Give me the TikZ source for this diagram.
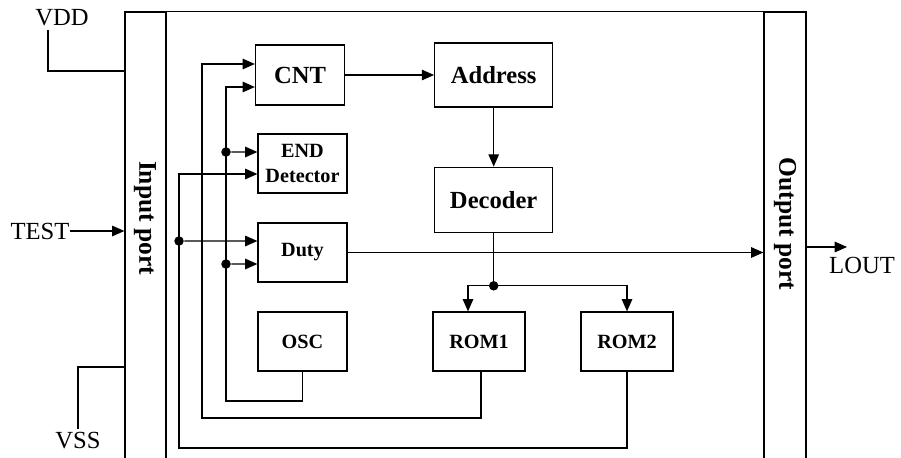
\documentclass[tikz,border=0pt]{standalone}
\usepackage{fontspec}
\setmainfont{Liberation Serif}
\usetikzlibrary{positioning, arrows.meta}

\begin{document}
\begin{tikzpicture}[x=0.02cm, y=-0.02cm, >={Triangle[length=7pt, width=6pt]}, line width=0.7pt,
  main block/.style={draw, inner sep=0pt, font=\bfseries\fontsize{14}{16}\selectfont},
  small block/.style={draw, inner sep=0pt, minimum width=1.78cm, minimum height=1.18cm, align=center, font=\bfseries\fontsize{11.5}{14}\selectfont},
  port/.style={draw, inner sep=0pt, minimum height=8.96cm},
  port label/.style={rotate=-90, inner sep=0pt, font=\bfseries\fontsize{14.5}{16}\selectfont},
  pin label/.style={inner sep=0pt, font=\fontsize{14}{16}\selectfont},
  dot/.style={circle, fill, inner sep=0pt, minimum size=0.19cm}]

  \useasboundingbox (0,0) rectangle (901,457);

  % Define ports and frame
  \node[port, minimum width=0.82cm] (inport) at (145.5,236) {};
  \node[port, minimum width=0.84cm] (outport) at (785,236) {};
  \draw (inport.north east) -- (outport.north west);
  \node[port label] at (145,218) {Input port};
  \node[port label] at (785,224) {Output port};

  % Define blocks
  \node[main block, minimum width=1.78cm, minimum height=1.2cm] (cnt) at (300,75) {CNT};
  \node[main block, minimum width=2.36cm, minimum height=1.28cm, right=1.78cm of cnt] (addr) {Address};
  \node[main block, minimum width=2.36cm, minimum height=1.3cm, below=1.18cm of addr] (dec) {Decoder};
  \node[small block] (endd) at (302.5,163.5) {END\\Detector};
  \node[small block] (duty) at (302.5,252.5) {Duty};
  \node[small block] (osc) at (302.5,341.5) {OSC};
  \node[small block, minimum width=1.84cm] (rom1) at (479,341.5) {ROM1};
  \node[small block, minimum width=1.84cm] (rom2) at (627,341.5) {ROM2};

  % Define pins
  \node[pin label] (vdd) at (62,18) {VDD};
  \node[pin label] (test) at (40,231) {TEST};
  \node[pin label] (vss) at (78,441) {VSS};
  \node[pin label] (lout) at (862,265) {LOUT};
  \coordinate (vddin) at (125,71);
  \coordinate (vssin) at (125,367);
  \coordinate (loutpin) at (847,247);

  \draw ([xshift=-0.28cm, yshift=-0.06cm]vdd.south) |- (vddin);
  \draw ([yshift=0.06cm]vss.north) |- (vssin);
  \draw[->] (test.east) -- (test.east -| inport.west);
  \draw[->] (outport.east |- loutpin) -- (loutpin);

  % Define edges between blocks
  \draw[->] (cnt.east) -- (cnt.east -| addr.west);
  \draw[->] (addr) -- (dec);
  \draw[->] (duty.east) -- (duty.east -| outport.west);

  \coordinate[below=1.06cm of dec] (split);
  \draw (dec.south) -- (split);
  \draw[->] (split) -| ([xshift=-0.22cm]rom1.north);
  \draw[->] (split) -| (rom2.north);
  \node[dot] at (split) {};

  % Feedback lines
  \node[dot] (j1) at (226,152) {};
  \node[dot] (j2) at (226,264) {};
  \node[dot] (j3) at (179,241) {};
  \draw[->] (osc.south) |- (226,401) |- ([yshift=-0.24cm]cnt.west);
  \draw[->] ([xshift=0.04cm]rom1.south) |- (202,418) |- ([yshift=0.22cm]cnt.west);
  \draw[->] (rom2.south) |- (179,448) |- ([yshift=-0.21cm]endd.west);
  \draw[->] (j1) -- ([yshift=0.23cm]endd.west);
  \draw[->] (j2) -- ([yshift=-0.23cm]duty.west);
  \draw[->] (j3) -- ([yshift=0.23cm]duty.west);
\end{tikzpicture}
\end{document}
